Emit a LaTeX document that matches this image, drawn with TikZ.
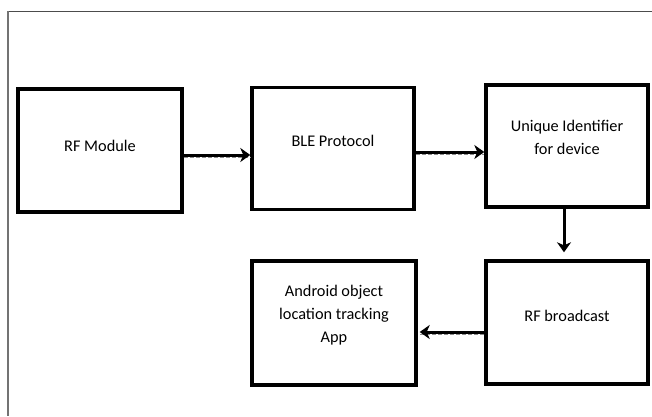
\documentclass[tikz,border=0pt]{standalone}
\usepackage{fontspec}
\setmainfont{Carlito}
\usetikzlibrary{arrows.meta}
\begin{document}
\begin{tikzpicture}[x=1pt,y=1pt,
  blk/.style={draw=black, line width=3.4pt, rectangle, minimum width=#1, minimum height=122pt, inner sep=0pt},
  lbl/.style={font=\fontsize{16.3}{23}\selectfont, align=center, inner sep=0pt},
  arr/.style={line width=3pt, -{Stealth[length=10pt,width=14pt,inset=3pt]}},
  shade/.style={preaction={draw=black!45, line width=1pt, dash pattern=on 4pt off 2pt, transform canvas={yshift=-2.5pt}, -{}}}]
\useasboundingbox (0,0) rectangle (652,416);
\fill[white] (0,0) rectangle (652,416);
\draw[draw=black!70, line width=1.2pt] (8,404.5) -- (652,404.5);
\draw[draw=black!55, line width=1.2pt] (8,404.5) -- (8,0);
% boxes
\node[blk=164pt, minimum height=123pt] (rf) at (100,265.5) {};
\node[blk=162pt] (ble) at (333,267.5) {};
\node[blk=162pt] (uid) at (567,270) {};
\node[blk=162pt, minimum height=123pt] (bc) at (567,93.5) {};
\node[blk=164pt, minimum height=124pt] (app) at (334,93) {};
% labels
\node[lbl] (trf) at ([yshift=5pt]rf.center) {RF Module};
\node[lbl] (tble) at ([yshift=8pt]ble.center) {BLE Protocol};
\node[lbl] (tuid) at ([yshift=9pt]uid.center) {Unique Identifier\\for device};
\node[lbl] (tbc) at ([yshift=7pt]bc.center) {RF broadcast};
\node[lbl] (tapp) at ([yshift=8pt]app.center) {Android object\\location tracking\\App};
% connectors
\draw[arr, shade] ([yshift=-4.5pt]rf.east) -- ([yshift=-4.5pt]rf.east -| ble.west);
\draw[arr, shade] ([yshift=-3.5pt]ble.east) -- ([yshift=-3.5pt]ble.east -| uid.west);
\draw[arr, shorten >=7pt] ([xshift=-3pt]uid.south) -- ([xshift=-3pt]uid.south |- bc.north);
\draw[arr, shade, shorten >=2pt] ([yshift=-9.5pt]bc.west) -- ([yshift=-9.5pt]bc.west -| app.east);
\end{tikzpicture}
\end{document}
